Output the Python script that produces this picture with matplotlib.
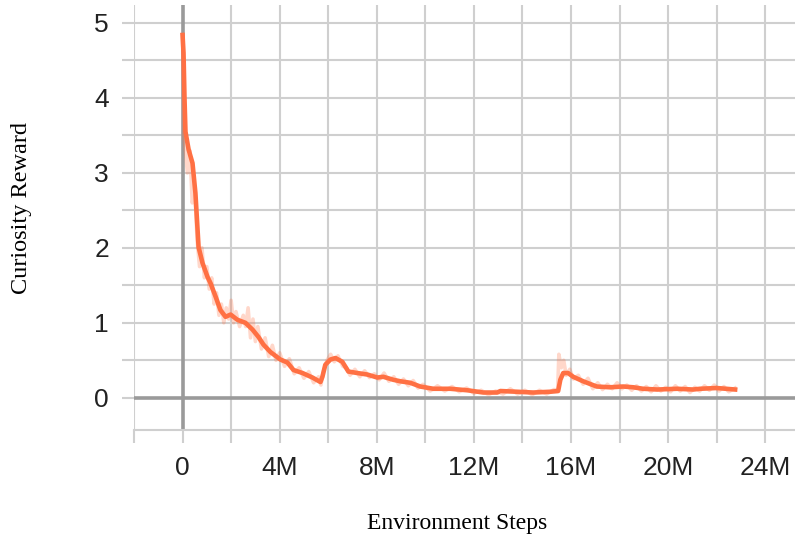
import matplotlib
matplotlib.use("Agg")
import matplotlib.pyplot as plt

# smoothed curiosity reward (env steps in millions)
steps = [0.0, 0.04, 0.08, 0.12, 0.25, 0.41, 0.53, 0.66, 0.82, 1.03, 1.15, 1.36, 1.56,
         1.77, 1.98, 2.26, 2.59, 2.88, 3.13, 3.33, 3.62, 4.03, 4.32, 4.57, 4.94, 5.35,
         5.68, 5.76, 5.88, 6.09, 6.30, 6.58, 6.83, 7.20, 7.61, 8.02, 8.27, 8.68, 8.97,
         9.38, 9.79, 10.33, 11.03, 11.73, 12.39, 12.96, 13.09, 13.79, 14.44, 15.14,
         15.47, 15.56, 15.68, 15.88, 16.09, 16.50, 17.06, 17.61, 18.15, 18.56, 18.97,
         19.55, 20.37, 21.03, 21.32, 22.0, 22.76]
reward = [4.84, 4.6, 4.0, 3.55, 3.31, 3.13, 2.73, 2.01, 1.80, 1.61, 1.53, 1.35, 1.17,
          1.08, 1.11, 1.04, 1.00, 0.91, 0.81, 0.71, 0.61, 0.51, 0.47, 0.37, 0.33, 0.27,
          0.21, 0.28, 0.44, 0.51, 0.53, 0.48, 0.35, 0.33, 0.31, 0.27, 0.28, 0.24, 0.22,
          0.20, 0.15, 0.12, 0.12, 0.10, 0.07, 0.07, 0.09, 0.08, 0.07, 0.08,
          0.09, 0.24, 0.33, 0.33, 0.28, 0.22, 0.15, 0.14, 0.15, 0.14, 0.12,
          0.11, 0.12, 0.11, 0.12, 0.13, 0.11]

# raw (unsmoothed) values, faint band
raw_steps = [0.0, 0.05, 0.1, 0.2, 0.3, 0.4, 0.5, 0.6, 0.7, 0.8, 0.9, 1.0, 1.1, 1.2, 1.3,
             1.4, 1.5, 1.6, 1.7, 1.8, 1.9, 2.0, 2.1, 2.2, 2.35, 2.5, 2.6, 2.7, 2.8, 2.9,
             3.0, 3.1, 3.25, 3.4, 3.55, 3.7, 3.85, 4.0, 4.2, 4.4, 4.6, 4.8, 5.0, 5.2,
             5.4, 5.6, 5.7, 5.8, 5.95, 6.1, 6.25, 6.4, 6.6, 6.75, 6.9, 7.1, 7.3, 7.5,
             7.7, 7.9, 8.1, 8.3, 8.5, 8.7, 8.9, 9.1, 9.3, 9.5, 9.7, 9.9, 10.2, 10.5,
             10.8, 11.1, 11.4, 11.7, 12.0, 12.3, 12.6, 12.9, 13.2, 13.5, 13.8, 14.1,
             14.4, 14.7, 15.0, 15.3, 15.45, 15.5, 15.6, 15.7, 15.8, 15.95, 16.1, 16.3,
             16.5, 16.7, 16.9, 17.1, 17.3, 17.5, 17.7, 17.9, 18.1, 18.3, 18.5, 18.7,
             18.9, 19.1, 19.3, 19.5, 19.7, 19.9, 20.1, 20.3, 20.5, 20.7, 20.9, 21.1,
             21.3, 21.5, 21.7, 21.9, 22.1, 22.3, 22.5, 22.76]
raw_reward = [4.84, 3.5, 3.35, 3.0, 3.3, 2.6, 2.8, 2.1, 1.75, 2.0, 1.6, 1.75, 1.45, 1.6,
              1.25, 1.4, 1.1, 1.25, 1.0, 1.2, 1.05, 1.3, 1.0, 1.15, 0.95, 1.1, 0.95, 1.2,
              0.8, 1.05, 0.75, 0.95, 0.65, 0.8, 0.55, 0.7, 0.5, 0.6, 0.42, 0.52, 0.32,
              0.4, 0.26, 0.35, 0.2, 0.28, 0.17, 0.35, 0.5, 0.58, 0.48, 0.56, 0.42, 0.4,
              0.3, 0.38, 0.28, 0.36, 0.27, 0.32, 0.24, 0.33, 0.22, 0.28, 0.18, 0.25,
              0.16, 0.23, 0.13, 0.18, 0.09, 0.16, 0.09, 0.15, 0.08, 0.13, 0.06, 0.1,
              0.04, 0.09, 0.05, 0.12, 0.05, 0.1, 0.04, 0.1, 0.05, 0.11, 0.1, 0.58, 0.4,
              0.5, 0.3, 0.38, 0.25, 0.3, 0.18, 0.26, 0.12, 0.2, 0.11, 0.18, 0.12, 0.2,
              0.12, 0.17, 0.1, 0.16, 0.09, 0.15, 0.08, 0.16, 0.09, 0.14, 0.08, 0.16,
              0.09, 0.15, 0.07, 0.14, 0.09, 0.16, 0.1, 0.17, 0.09, 0.15, 0.08, 0.13]

x_ticks = [-2, 0, 2, 4, 6, 8, 10, 12, 14, 16, 18, 20, 22, 24]
x_labels = ["", "0", "", "4M", "", "8M", "", "12M", "", "16M", "", "20M", "", "24M"]
y_ticks = [0, 0.5, 1, 1.5, 2, 2.5, 3, 3.5, 4, 4.5, 5]
y_labels = ["0", "", "1", "", "2", "", "3", "", "4", "", "5"]

orange = "#ff7043"
grid_c = "#cfcfcf"
zero_c = "#9a9a9a"

fig = plt.figure(figsize=(7.95, 5.4), dpi=100)
ax = fig.add_axes([134 / 795, 110 / 540, 661 / 795, 425 / 540])

ax.plot(raw_steps, raw_reward, color=orange, alpha=0.28, lw=2.6, zorder=3)
ax.plot(steps, reward, color=orange, lw=3.3, zorder=4, solid_joinstyle="round")

ax.axhline(0, color=zero_c, lw=2.6, zorder=2)
ax.axvline(0, color=zero_c, lw=2.6, zorder=2)

ax.set_xlim(-2, (795 - 182) / 24.3)
ax.set_ylim(-0.43, 5.24)
ax.set_xticks(x_ticks)
ax.set_xticklabels(x_labels)
ax.set_yticks(y_ticks)
ax.set_yticklabels(y_labels)
ax.grid(True, color=grid_c, lw=1.5, zorder=0)
ax.set_axisbelow(True)

for side in ["top", "right", "left"]:
    ax.spines[side].set_visible(False)
ax.spines["bottom"].set_color(grid_c)
ax.spines["bottom"].set_linewidth(1.5)

ax.tick_params(axis="x", length=9, width=1.5, color=grid_c, pad=10,
               labelsize=19, labelcolor="#222222")
ax.tick_params(axis="y", length=9, width=1.5, color=grid_c, pad=9,
               labelsize=19, labelcolor="#222222")
ax.yaxis.get_major_ticks()[0].tick1line.set_color(zero_c)
for lbl in ax.get_xticklabels() + ax.get_yticklabels():
    lbl.set_fontfamily("Liberation Sans")

fig.text(22 / 795, 1 - 208 / 540, "Curiosity Reward", rotation=90, ha="center",
         va="center", fontsize=17.5, family="Liberation Serif")
fig.text(457 / 795, 1 - 524 / 540, "Environment Steps", ha="center", va="center",
         fontsize=17, family="Liberation Serif")

fig.savefig("out.png", dpi=100)
